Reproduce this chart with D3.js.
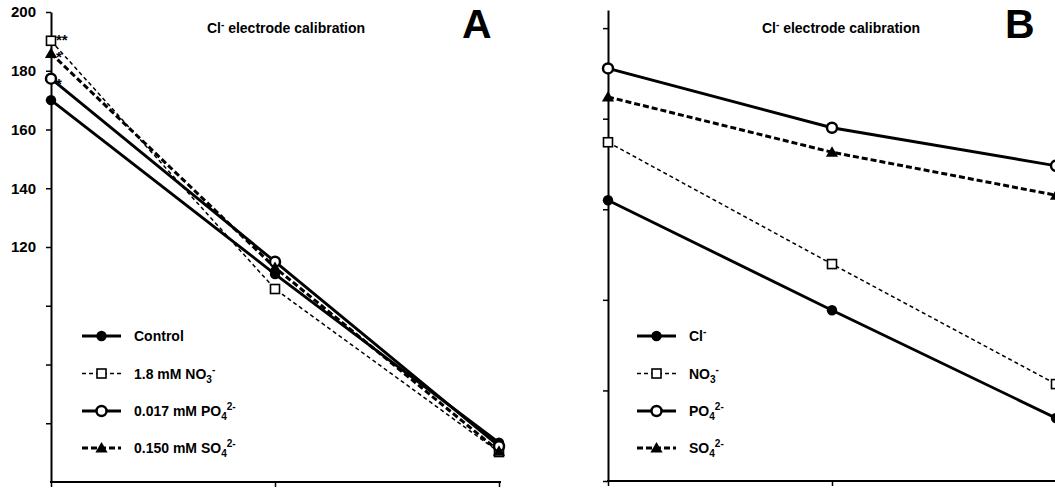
<!DOCTYPE html>
<html><head><meta charset="utf-8">
<script src="https://cdn.jsdelivr.net/npm/d3@7"></script>
<style>
body{margin:0;background:#fff;}
svg{display:block;font-family:"Liberation Sans",Arial,sans-serif;}
</style></head>
<body><svg id="c" width="1055" height="490"></svg>
<script>
// ---- data ----
const categories = [0, 1, 2];
// Panel A (mV)
const controlA = [170, 110.8, 53.4];
const no3A = [190.2, 105.7, 50.2];
const po4A = [177.3, 115.0, 52.2];
const so4A = [185.9, 113.0, 50.5];
const ticksA = [60, 80, 100, 120, 140, 160, 180, 200];
const labelledTicksA = [120, 140, 160, 180, 200];
// Panel B
const clB = [102.0, 77.7, 53.9];
const no3B = [114.8, 87.9, 61.4];
const po4B = [131.1, 118.0, 109.6];
const so4B = [124.8, 112.6, 103.1];
const ticksB = [40, 60, 80, 100, 120, 140];
const legendA = [["Control"], ["1.8 mM NO", "3", "-"], ["0.017 mM PO", "4", "2-"], ["0.150 mM SO", "4", "2-"]];
const legendB = [["Cl", "", "-"], ["NO", "3", "-"], ["PO", "4", "2-"], ["SO", "4", "2-"]];
const stars = ["", "**", "*", "*"];

const svg = d3.select("#c");
const styles = [
  {dash: null, w: 2.9, m: "fcircle"},
  {dash: "4,3", w: 1.5, m: "square"},
  {dash: null, w: 2.9, m: "ocircle"},
  {dash: "6,3", w: 3, m: "triangle"}
];
const starDy = [0, 4.5, 10, 8.7];

function marker(g, type, x, y) {
  if (type === "fcircle") g.append("circle").attr("cx", x).attr("cy", y).attr("r", 5.2).attr("fill", "#000");
  else if (type === "ocircle") g.append("circle").attr("cx", x).attr("cy", y).attr("r", 5).attr("fill", "#fff").attr("stroke", "#000").attr("stroke-width", 2.5);
  else if (type === "square") g.append("rect").attr("x", x - 4.5).attr("y", y - 4.5).attr("width", 9).attr("height", 9).attr("fill", "#fff").attr("stroke", "#000").attr("stroke-width", 1.6);
  else g.append("path").attr("d", d3.symbol(d3.symbolTriangle, 64)()).attr("transform", `translate(${x},${y + 1})`).attr("fill", "#000");
}

function richText(g, x, y, parts, size) {
  const t = g.append("text").attr("x", x).attr("y", y).attr("font-size", size).attr("font-weight", "bold").attr("fill", "#000");
  t.append("tspan").text(parts[0]);
  if (parts.length > 1) {
    let shift = 0;
    if (parts[1]) { t.append("tspan").attr("font-size", size * 0.72).attr("dy", 4).text(parts[1]); shift = 4; }
    t.append("tspan").attr("font-size", size * 0.72).attr("dy", -shift - 6).text(parts[2]);
  }
  return t;
}

function panel(opt) {
  const x = d3.scalePoint().domain(categories).range(opt.xr);
  const y = d3.scaleLinear().domain(opt.yd).range(opt.yr);
  const g = svg.append("g");
  // y axis
  const ya = g.append("g").attr("transform", `translate(${opt.xr[0]},0)`)
    .call(d3.axisLeft(y).tickValues(opt.ticks).tickSize(5).tickSizeOuter(0).tickPadding(10)
      .tickFormat(d => opt.labelled.includes(d) ? d : ""));
  ya.select(".domain").attr("stroke-width", 2).attr("stroke", "#000");
  ya.selectAll(".tick line").attr("stroke-width", 1.5);
  ya.selectAll("text").attr("font-size", 15).attr("font-weight", "bold").attr("font-family", "Liberation Sans, Arial, sans-serif");
  // x axis
  const xa = g.append("g").attr("transform", `translate(0,${opt.yr[0]})`)
    .call(d3.axisBottom(x).tickSize(5).tickSizeOuter(0).tickFormat(""));
  xa.select(".domain").remove();
  xa.selectAll(".tick line").attr("stroke-width", 1.5);
  g.append("line").attr("x1", opt.xr[0] - 1).attr("x2", opt.xEnd).attr("y1", opt.yr[0]).attr("y2", opt.yr[0])
    .attr("stroke", "#000").attr("stroke-width", 2);
  // series
  const line = d3.line().x((d, i) => x(categories[i])).y(d => y(d));
  opt.series.forEach((s, k) => {
    const st = styles[k];
    g.append("path").datum(s).attr("d", line).attr("fill", "none").attr("stroke", "#000")
      .attr("stroke-width", st.w).attr("stroke-dasharray", st.dash);
  });
  opt.series.forEach((s, k) => {
    s.forEach((v, i) => marker(g, styles[k].m, x(categories[i]), y(v)));
  });
  if (opt.stars) {
    opt.series.forEach((s, k) => {
      if (!opt.stars[k]) return;
      g.append("text").attr("x", x(categories[0]) + 5).attr("y", y(s[0]) + starDy[k])
        .attr("font-size", 15).attr("font-weight", "bold").text(opt.stars[k]);
    });
  }
  // title
  const tt = g.append("text").attr("x", opt.titleX).attr("y", 33).attr("text-anchor", "middle")
    .attr("font-size", 14).attr("font-weight", "bold");
  tt.append("tspan").text("Cl");
  tt.append("tspan").attr("font-size", 10).attr("dy", -5).text("-");
  tt.append("tspan").attr("dy", 5).text(" electrode calibration");
  g.append("text").attr("x", opt.letterX).attr("y", 38).attr("font-size", 41).attr("font-weight", "bold").text(opt.letter);
  // legend
  const rows = [336, 373.5, 411, 448];
  opt.legend.forEach((p, k) => {
    const st = styles[k];
    const ry = rows[k];
    g.append("line").attr("x1", opt.lx).attr("x2", opt.lx + 39).attr("y1", ry).attr("y2", ry)
      .attr("stroke", "#000").attr("stroke-width", st.w).attr("stroke-dasharray", st.dash);
    marker(g, st.m, opt.lx + 19.5, ry);
    richText(g, opt.lx + 52, ry + 5, p, 14);
  });
}

panel({xr: [51, 499], xEnd: 501, yd: [40, 200], yr: [482, 12], ticks: ticksA, labelled: labelledTicksA,
  series: [controlA, no3A, po4A, so4A], stars: stars, titleX: 286, letter: "A", letterX: 462, lx: 82, legend: legendA});
panel({xr: [608, 1056], xEnd: 1060, yd: [40, 144], yr: [481, 10], ticks: ticksB, labelled: [],
  series: [clB, no3B, po4B, so4B], stars: null, titleX: 841, letter: "B", letterX: 1005, lx: 637, legend: legendB});
</script></body></html>
